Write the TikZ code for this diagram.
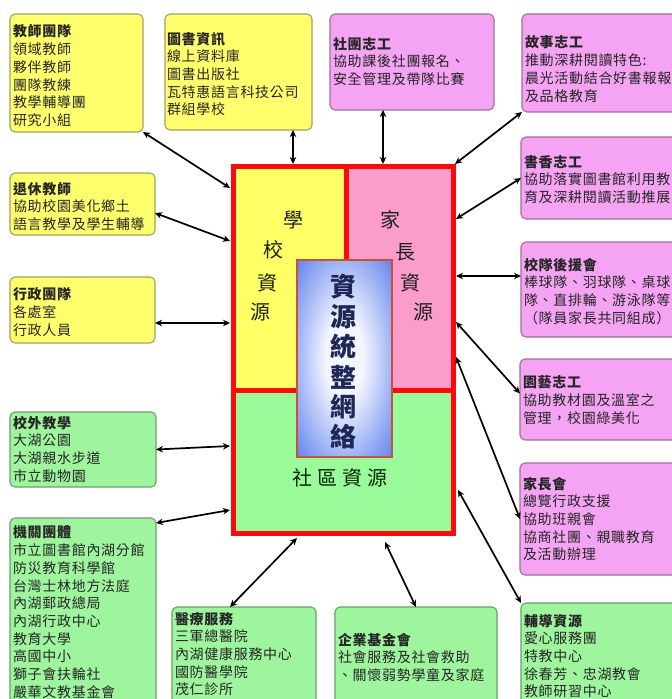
\documentclass[tikz,border=0pt]{standalone}
\usepackage{fontspec}
\setmainfont[LetterSpace=5]{Noto Sans CJK TC}
\usetikzlibrary{arrows.meta,calc}
\definecolor{ybg}{HTML}{FFFF6E}
\definecolor{yline}{HTML}{A3A062}
\definecolor{pbg}{HTML}{F5A3F3}
\definecolor{pline}{HTML}{9E6E9C}
\definecolor{gbg}{HTML}{9EF59E}
\definecolor{gline}{HTML}{6E9E70}
\definecolor{hubY}{HTML}{FFFF66}
\definecolor{hubP}{HTML}{FA9DCB}
\definecolor{hubG}{HTML}{99FB99}
\definecolor{hubR}{HTML}{FF0A0A}
\definecolor{bluec}{HTML}{5F82EC}
\definecolor{glowc}{HTML}{F4F6FF}
\definecolor{netline}{HTML}{C8503C}
\definecolor{bodyc}{HTML}{262626}
\definecolor{navy}{HTML}{1E2858}
\pgfdeclareradialshading{blueglow}{\pgfpoint{0bp}{0bp}}{color(0bp)=(glowc); color(10bp)=(glowc); color(36bp)=(bluec); color(50bp)=(bluec)}
\tikzset{
  box/.style={rectangle, rounded corners=5pt, line width=1.1pt, inner sep=0pt, outer sep=0pt},
  ybox/.style={box, fill=ybg, draw=yline},
  pbox/.style={box, fill=pbg, draw=pline},
  gbox/.style={box, fill=gbg, draw=gline},
  txt/.style={anchor=north west, inner sep=0pt, outer sep=0pt, align=left, text=bodyc, font=\fontsize{14}{17.7}\selectfont},
  big/.style={inner sep=0pt, text=black!88, font=\fontsize{20}{24}\selectfont},
  huge/.style={inner sep=0pt, text=navy, font=\fontsize{26}{30}\selectfont\bfseries},
  area/.style={rectangle, inner sep=0pt, outer sep=0pt, draw=hubR, line width=5pt},
  dbl/.style={{Stealth[length=7pt,width=6.5pt]}-{Stealth[length=7pt,width=6.5pt]}, line width=1.7pt, black}
}
\begin{document}
\begin{tikzpicture}[x=1pt,y=-1pt]
\useasboundingbox (0,0) rectangle (672,699);
\fill[white] (0,0) rectangle (672,699);
\clip (0,0) rectangle (672,699);

% outer boxes
\node[ybox, minimum width=133pt, minimum height=118pt] (b1) at (76.5,73) {};
\node[ybox, minimum width=147pt, minimum height=116pt] (b2) at (238.5,72) {};
\node[pbox, minimum width=164pt, minimum height=96pt] (b3) at (412,62) {};
\node[pbox, minimum width=178pt, minimum height=98pt] (b4) at (611,63) {};
\node[ybox, minimum width=145pt, minimum height=62pt] (b5) at (82.5,204) {};
\node[ybox, minimum width=145pt, minimum height=66pt] (b6) at (82.5,310) {};
\node[pbox, minimum width=179pt, minimum height=82pt] (b7) at (610.5,178) {};
\node[pbox, minimum width=179pt, minimum height=95pt] (b8) at (610.5,289.5) {};
\node[pbox, minimum width=180pt, minimum height=81pt] (b9) at (610,399.5) {};
\node[pbox, minimum width=180pt, minimum height=112pt] (b10) at (610,519) {};
\node[gbox, minimum width=146pt, minimum height=75pt] (b11) at (83,449.5) {};
\node[gbox, minimum width=146pt, minimum height=202pt] (b12) at (83,619) {};
\node[gbox, minimum width=144pt, minimum height=113pt] (b13) at (244,663.5) {};
\node[gbox, minimum width=162pt, minimum height=113pt] (b14) at (416,663.5) {};
\node[gbox, minimum width=179pt, minimum height=117pt] (b15) at (610.5,661.5) {};

% texts
\node[txt] (t1) at (13,25) {\textbf{教師團隊}\\領域教師\\夥伴教師\\團隊教練\\教學輔導團\\研究小組};
\node[txt] (t2) at (167,32) {\textbf{圖書資訊}\\線上資料庫\\圖書出版社\\瓦特惠語言科技公司\\群組學校};
\node[txt] (t3) at (333,37) {\textbf{社團志工}\\協助課後社團報名、\\安全管理及帶隊比賽};
\node[txt] (t4) at (525,36) {\textbf{故事志工}\\推動深耕閱讀特色:\\晨光活動結合好書報報\\及品格教育};
\node[txt] (t5) at (13,182) {\textbf{退休教師}\\協助校園美化鄉土\\語言教學及學生輔導};
\node[txt] (t6) at (13,288) {\textbf{行政團隊}\\各處室\\行政人員};
\node[txt] (t7) at (524,155) {\textbf{書香志工}\\協助落實圖書館利用教\\育及深耕閱讀活動推展};
\node[txt] (t8) at (524,258) {\textbf{校隊後援會}\\棒球隊、羽球隊、桌球\\隊、直排輪、游泳隊等\\（隊員家長共同組成）};
\node[txt] (t9) at (523,376) {\textbf{園藝志工}\\協助教材園及溫室之\\管理，校園綠美化};
\node[txt] (t10) at (523,477) {\textbf{家長會}\\總覽行政支援\\協助班親會\\協商社團、親職教育\\及活動辦理};
\node[txt] (t11) at (13,416) {\textbf{校外教學}\\大湖公園\\大湖親水步道\\市立動物園};
\node[txt] (t12) at (13,526) {\textbf{機關團體}\\市立圖書館內湖分館\\防災教育科學館\\台灣士林地方法庭\\內湖郵政總局\\內湖行政中心\\教育大學\\高國中小\\獅子會扶輪社\\嚴華文教基金會};
\node[txt] (t13) at (175,612) {\textbf{醫療服務}\\三軍總醫院\\內湖健康服務中心\\國防醫學院\\茂仁診所};
\node[txt] (t14) at (338,633) {\textbf{企業基金會}\\社會服務及社會救助\\、關懷弱勢學童及家庭};
\node[txt] (t15) at (524,614) {\textbf{輔導資源}\\愛心服務團\\特教中心\\徐春芳、忠湖教會\\教師研習中心};

% hub
\node[area, fill=hubG, minimum width=220pt, minimum height=143pt] (community) at (343,461.5) {};
\node[area, fill=hubY, minimum width=113pt, minimum height=224pt] (school) at (289.5,278) {};
\node[area, fill=hubP, minimum width=107pt, minimum height=224pt] (parent) at (399.5,278) {};
\node[rectangle, inner sep=0pt, outer sep=0pt, minimum width=220pt, minimum height=367pt] (hub) at (343,349.5) {};
\node[rectangle, inner sep=0pt, outer sep=0pt, minimum width=95pt, minimum height=197pt, draw=netline, line width=2pt, shade, shading=blueglow] (net) at (344.5,358.5) {};

\node[big] (s1) at (293,220) {學};
\node[big] (s2) at (273,250) {校};
\node[big] (s3) at (267,283) {資};
\node[big] (s4) at (260,312) {源};
\node[big] (p1) at (390,220) {家};
\node[big] (p2) at (405,252) {長};
\node[big] (p3) at (410,283) {資};
\node[big] (p4) at (423,312) {源};
\node[huge] (n1) at (343,287) {資};
\node[huge] (n2) at (343,317) {源};
\node[huge] (n3) at (343,347) {統};
\node[huge] (n4) at (343,377) {整};
\node[huge] (n5) at (343,407) {網};
\node[huge] (n6) at (343,437) {絡};
\node[big, text=black!85!green] (c1) at (340,478) {社\hspace{5pt}區\hspace{5pt}資\hspace{5pt}源};

% hub end points
\coordinate (h1) at (230,188);
\coordinate (h2) at (293,164);
\coordinate (h3) at (383,164);
\coordinate (h4) at (455,164);
\coordinate (h5) at (456,219);
\coordinate (h6) at (230,241);
\coordinate (h7) at (230,323);
\coordinate (h8) at (456,276);
\coordinate (h9) at (456,322);
\coordinate (h10) at (456,357);
\coordinate (h11) at (230,446);
\coordinate (h12) at (230,510);
\coordinate (h13) at (297,538);
\coordinate (h14) at (385,542);
\coordinate (h15) at (458,490);

% connectors
\draw[dbl] (b1.south east) -- (h1);
\draw[dbl] (h2 |- b2.south) -- (h2);
\draw[dbl] (h3 |- b3.south) -- (h3);
\draw[dbl] (b4.south west) -- (h4);
\draw[dbl] (b7.west) -- (h5);
\draw[dbl] ([yshift=-9pt]b5.east) -- (h6);
\draw[dbl] (b6.east |- h7) -- (h7);
\draw[dbl] (b8.west |- h8) -- (h8);
\draw[dbl] ([yshift=6pt]b9.west) -- (h9);
\draw[dbl] (b10.west) -- (h10);
\draw[dbl] (b11.east) -- (h11);
\draw[dbl] ([yshift=-5pt]b12.north east) -- (h12);
\draw[dbl] ([xshift=58pt]b13.north west) -- (h13);
\draw[dbl] (b14.north) -- (h14);
\draw[dbl] (b15.north west) -- (h15);
\end{tikzpicture}
\end{document}
